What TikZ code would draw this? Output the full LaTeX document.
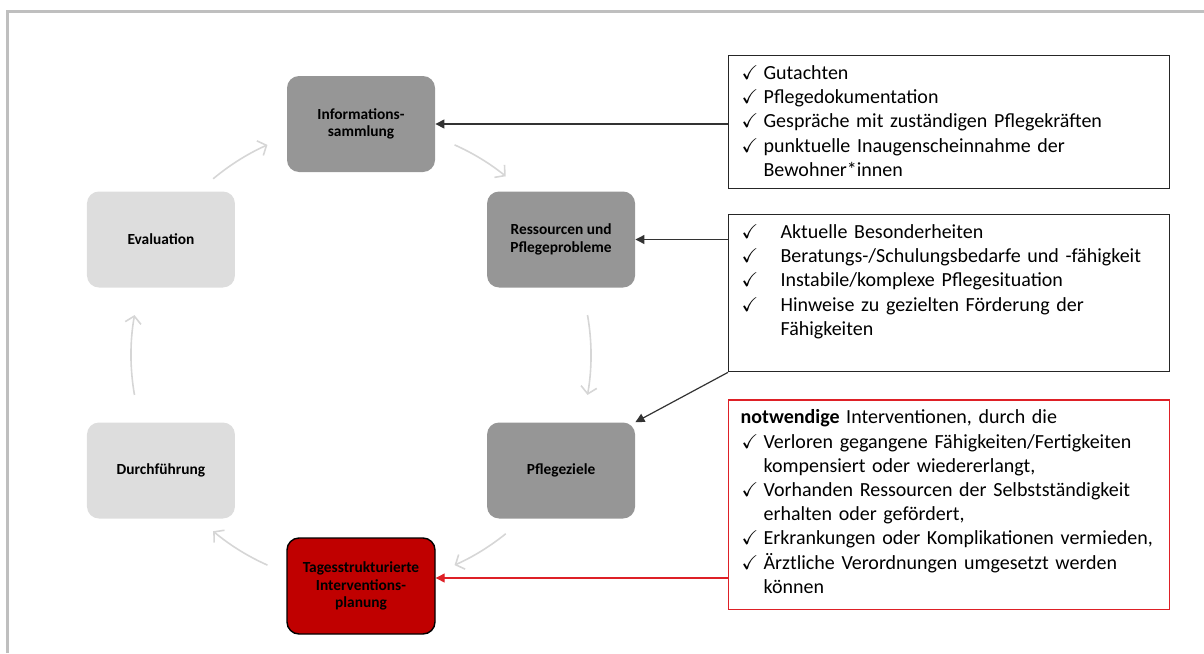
\documentclass[tikz,border=0pt]{standalone}
\usepackage{fontspec}
\setmainfont{Carlito}
\usepackage{amssymb}
\usetikzlibrary{positioning, arrows.meta}

\definecolor{phaseGray}{RGB}{150,150,150}
\definecolor{phaseLightGray}{RGB}{221,221,221}
\definecolor{phaseRedFill}{RGB}{192,0,0}
\definecolor{boxRed}{RGB}{222,32,38}
\definecolor{cycleGray}{RGB}{214,214,214}
\definecolor{frameGray}{RGB}{191,191,191}

\tikzset{
  % Phasen im Kreislauf
  phase/.style={
    rectangle, rounded corners=6pt, align=center,
    font=\fontsize{7.7}{8.75}\selectfont\bfseries,
    minimum width=74pt, minimum height=48pt, inner sep=0pt,
    fill=phaseGray
  },
  phaseLight/.style={phase, fill=phaseLightGray},
  phaseRed/.style={phase, fill=phaseRedFill, draw=black, line width=0.7pt},
  % Listen rechts
  infobox/.style={
    draw=black!85, line width=0.6pt, rectangle, align=left,
    font=\fontsize{10}{12.1}\selectfont,
    text width=208.5pt, inner xsep=6pt, inner ysep=5pt
  },
  infoboxRed/.style={infobox, draw=boxRed},
  % Kreislauf-Pfeile
  cycleArrow/.style={
    draw=cycleGray, line width=0.8pt,
    -{Straight Barb[length=3.5pt, width=8pt]}
  },
  % Zuordnungen Liste -> Phase
  feed/.style={
    draw=black!80, line width=0.6pt,
    -{Triangle[length=4.5pt, width=4.5pt]}
  },
  feedRed/.style={feed, draw=boxRed},
  frameLine/.style={draw=frameGray, line width=1.5pt}
}
\newcommand{\hakenitem}[2]{%
  \hangindent=#1\hangafter=1
  \noindent\makebox[#1][l]{\hspace{0.5pt}$\checkmark$}#2\par
}

\begin{document}
\begin{tikzpicture}[x=0.5pt, y=-0.5pt]

  \useasboundingbox (0,0) rectangle (1204,653);
  \draw[frameLine] (7,653) -- (7,11.5) -- (1204,11.5);

  %% ── Kreislauf ──
  \coordinate (ring) at (361,355);
  \node[phase]      (infoS)  at ([shift={(-90:231)}]ring) {Informations-\\sammlung};
  \node[phase]      (ressS)  at ([shift={(-30:231)}]ring) {Ressourcen und\\Pflegeprobleme};
  \node[phase]      (zieleS) at ([shift={(30:231)}]ring)  {Pflegeziele};
  \node[phaseRed]   (planS)  at ([shift={(90:231)}]ring)  {Tagesstrukturierte\\Interventions-\\planung};
  \node[phaseLight] (durchS) at ([shift={(150:231)}]ring) {Durchführung};
  \node[phaseLight] (evalS)  at ([shift={(210:231)}]ring) {Evaluation};

  \draw[cycleArrow] ([shift={(-130:230)}]ring) arc[start angle=-130, end angle=-114, radius=230]; % evalS -> infoS
  \draw[cycleArrow] ([shift={(-66:230)}]ring)  arc[start angle=-66, end angle=-51, radius=230];   % infoS -> ressS
  \draw[cycleArrow] ([shift={(-10:230)}]ring)  arc[start angle=-10, end angle=10, radius=230];    % ressS -> zieleS
  \draw[cycleArrow] ([shift={(51:230)}]ring)   arc[start angle=51, end angle=66, radius=230];     % zieleS -> planS
  \draw[cycleArrow] ([shift={(114:230)}]ring)  arc[start angle=114, end angle=130, radius=230];   % planS -> durchS
  \draw[cycleArrow] ([shift={(170:230)}]ring)  arc[start angle=170, end angle=190, radius=230];   % durchS -> evalS

  %% ── Listen ──
  \node[infobox, anchor=north west] (quellenL) at (728,55) {%
    \hakenitem{11.5pt}{Gutachten}
    \hakenitem{11.5pt}{Pflegedokumentation}
    \hakenitem{11.5pt}{Gespräche mit zuständigen Pflegekräften}
    \hakenitem{11.5pt}{punktuelle Inaugenscheinnahme der\newline Bewohner*innen}
    \kern1pt};
  \node[infobox, below=12.5pt of quellenL.south west, anchor=north west] (hinweiseL) {%
    \hakenitem{20pt}{Aktuelle Besonderheiten}
    \hakenitem{20pt}{Beratungs-/Schulungsbedarfe und -fähigkeit}
    \hakenitem{20pt}{Instabile/komplexe Pflegesituation}
    \hakenitem{20pt}{Hinweise zu gezielten Förderung der\newline Fähigkeiten}
    \kern11.5pt};
  \node[infoboxRed, below=13.5pt of hinweiseL.south west, anchor=north west] (intervL) {%
    \noindent\textbf{notwendige} Interventionen, durch die\par
    \hakenitem{11.5pt}{Verloren gegangene Fähigkeiten/Fertigkeiten\newline kompensiert oder wiedererlangt,}
    \hakenitem{11.5pt}{Vorhanden Ressourcen der Selbstständigkeit\newline erhalten oder gefördert,}
    \hakenitem{11.5pt}{Erkrankungen oder Komplikationen vermieden,}
    \hakenitem{11.5pt}{Ärztliche Verordnungen umgesetzt werden\newline können}
    \kern3pt};

  %% ── Zuordnungen ──
  \draw[feed] (quellenL.west |- infoS.east) -- (infoS.east);
  \draw[feed] (hinweiseL.west |- ressS.east) -- (ressS.east);
  \draw[feed] (hinweiseL.south west) -- (zieleS.north east);
  \coordinate (planIn) at ([yshift=4pt]planS.east);
  \draw[feedRed] (intervL.west |- planIn) -- (planIn);

\end{tikzpicture}
\end{document}
